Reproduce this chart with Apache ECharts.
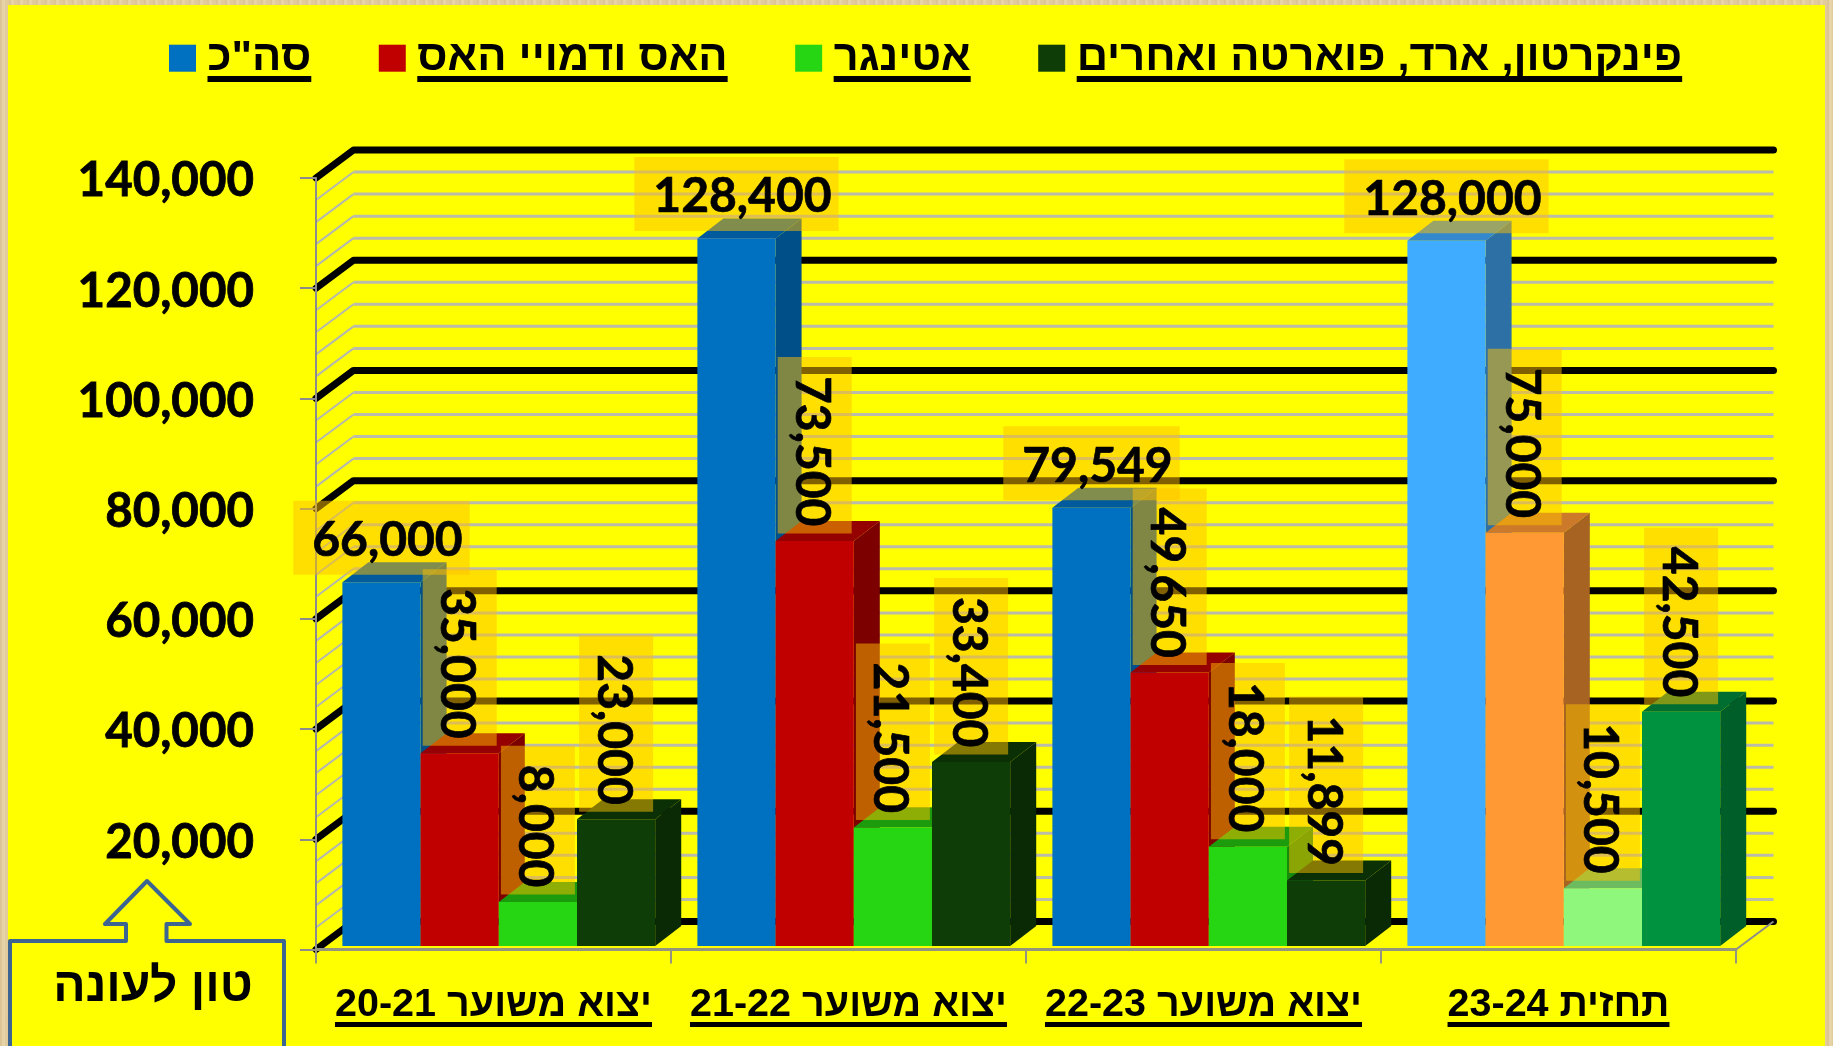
<!DOCTYPE html>
<html lang="he">
<head>
<meta charset="utf-8">
<title>Chart</title>
<style>
html,body{margin:0;padding:0;width:1833px;height:1046px;overflow:hidden;background:#E4CFA2;}
body{background-image:repeating-linear-gradient(90deg,rgba(190,150,90,.18) 0 2px,rgba(255,240,210,.12) 2px 5px,rgba(190,150,90,.08) 5px 9px);}
#c{width:1833px;height:1046px;}
</style>
<script src="https://cdn.jsdelivr.net/npm/echarts@6/dist/echarts.min.js"></script>
</head>
<body>
<div id="c" dir="rtl"></div>
<script>
const categories = ['יצוא משוער 20-21', 'יצוא משוער 21-22', 'יצוא משוער 22-23', 'תחזית 23-24'];
const seriesNames = ['סה"כ', 'האס ודמויי האס', 'אטינגר', 'פינקרטון, ארד, פוארטה ואחרים'];
const totalValues = [66000, 128400, 79549, 128000];
const hassValues = [35000, 73500, 49650, 75000];
const ettingerValues = [8000, 21500, 18000, 10500];
const otherValues = [23000, 33400, 11899, 42500];
const allValues = [totalValues, hassValues, ettingerValues, otherValues];
const gridValues = [0,4000,8000,12000,16000,20000,24000,28000,32000,36000,40000,44000,48000,52000,56000,60000,64000,68000,72000,76000,80000,84000,88000,92000,96000,100000,104000,108000,112000,116000,120000,124000,128000,132000,136000,140000];
const calloutText = 'טון לעונה';

// colours: [front, top, side], actual seasons then the forecast season
const actualColors = [
  ['#0070C0','#005A9B','#004F88'],
  ['#C00000','#950000','#7C0000'],
  ['#27D612','#1C9C0D','#178A0B'],
  ['#0F3D08','#0B3006','#092A05']
];
const forecastColors = [
  ['#40ACFF','#3389CC','#2C70A6'],
  ['#FF9933','#CC7A29','#A66321'],
  ['#8FF77B','#6CBB5E','#5FA552'],
  ['#00923F','#006E30','#005F29']
];
const forecastIndex = 3;

const LABEL_FONT = '700 48px Lato';
const LEGEND_SIZE = 43.4, AXIS_SIZE = 39.5;
const HEB_FONT = '700 ' + LEGEND_SIZE + 'px "Liberation Sans"';
const AXIS_FONT = '700 ' + AXIS_SIZE + 'px "Liberation Sans"';
const LEGEND_PAD = 6.5, LEGEND_GAP = 67.5;
const LABEL_BOX = 74;

const WALL_DX = 37.5, WALL_DY = -28;
const BAR_DX = 26, BAR_DY = -20;
const FLOOR_DX = 5.3, FLOOR_DY = -3.5;
const BAR_FRAC = 0.2203;

const mctx = document.createElement('canvas').getContext('2d');
function textW(t, font){ mctx.font = font; return mctx.measureText(t).width; }
function fmt(v){ return v.toLocaleString('en-US'); }

function barGeom(api, cat, val, idx){
  const band = api.size([1,0])[0];
  const bw = band * BAR_FRAC;
  const c = api.coord([cat, val]);
  const b = api.coord([cat, 0]);
  const x0 = c[0] + FLOOR_DX + (idx - 2) * bw;
  return {x0, x1: x0 + bw, top: c[1] + FLOOR_DY, base: b[1] + FLOOR_DY, bw};
}

function barSeries(idx){
  return {
    name: seriesNames[idx], type: 'custom', z: 2, clip: false,
    itemStyle: {color: actualColors[idx][0]},
    encode: {x: 0, y: 1},
    data: allValues[idx].map((v,i)=>[i,v]),
    renderItem(params, api){
      const cat = api.value(0), val = api.value(1);
      const g = barGeom(api, cat, val, idx);
      const col = (cat === forecastIndex ? forecastColors : actualColors)[idx];
      return {type:'group', children:[
        {type:'polygon', shape:{points:[[g.x1,g.top],[g.x1+BAR_DX,g.top+BAR_DY],[g.x1+BAR_DX,g.base+BAR_DY],[g.x1,g.base]]}, style:{fill:col[2]}},
        {type:'polygon', shape:{points:[[g.x0,g.top],[g.x0+BAR_DX,g.top+BAR_DY],[g.x1+BAR_DX,g.top+BAR_DY],[g.x1,g.top]]}, style:{fill:col[1]}},
        {type:'rect', shape:{x:g.x0,y:g.top,width:g.bw,height:g.base-g.top}, style:{fill:col[0]}}
      ]};
    }
  };
}

const labelData = [];
allValues.forEach((arr,s)=>arr.forEach((v,i)=>labelData.push([i,v,s])));

const option = {
  animation: false,
  backgroundColor: 'transparent',
  textStyle: {fontFamily: '"Liberation Sans"'},
  grid: {left: 316, right: 97, top: 178, bottom: 96.5},
  legend: {
    left: 169, top: 36.7, padding: 0, icon: 'rect', itemWidth: 27, itemHeight: 27, itemGap: LEGEND_GAP,
    data: seriesNames, selectedMode: false,
    textStyle: {fontFamily: '"Liberation Sans"', fontWeight: 700, fontSize: LEGEND_SIZE, color: '#000', padding: [0,0,0,LEGEND_PAD]}
  },
  xAxis: {
    type: 'category', data: categories, z: 1,
    axisLine: {show: true, lineStyle: {color: '#95957F', width: 3}},
    axisTick: {show: true, interval: 0, alignWithLabel: false, length: 14, lineStyle: {color: '#95957F', width: 2}},
    axisLabel: {interval: 0, hideOverlap: false, fontFamily:'"Liberation Sans"', fontWeight:700, fontSize:AXIS_SIZE, color:'#000', margin: 36},
    splitLine: {show: false}
  },
  yAxis: {
    type: 'value', min: 0, max: 140000, interval: 20000, z: 1,
    axisLine: {show: true, lineStyle: {color: '#8C8C8C', width: 2}},
    axisTick: {show: true, length: 16, lineStyle: {color: '#8C8C8C', width: 2}},
    axisLabel: {fontFamily: 'Lato', fontWeight: 700, fontSize: 47.5, color: '#000', margin: 62, verticalAlign: 'top', padding: [-21,0,0,0], textBorderColor:'#000', textBorderWidth:0.8, formatter: v => v === 0 ? '' : fmt(v)},
    splitLine: {show: false}
  },
  graphic: [],
  series: [
    {
      name: 'wall', type: 'custom', z: 0, clip: false, silent: true,
      encode: {y: 0},
      data: gridValues.map(v=>[v]),
      renderItem(params, api){
        const v = api.value(0);
        const cs = params.coordSys;
        const y = api.coord([0, v])[1];
        const major = v % 20000 === 0;
        const x0 = cs.x, x1 = cs.x + cs.width;
        const kids = [];
        if (major) {
          kids.push({type:'polyline', shape:{points:[[x0,y],[x0+WALL_DX,y+WALL_DY],[x1+WALL_DX,y+WALL_DY]]},
            style:{stroke:'#000', lineWidth:7, fill:null, lineCap:'round', lineJoin:'round'}});
        } else {
          kids.push({type:'polyline', shape:{points:[[x0,y],[x0+WALL_DX,y+WALL_DY]]}, style:{stroke:'#B4B8B0', lineWidth:2, fill:null}});
          kids.push({type:'polyline', shape:{points:[[x0+WALL_DX,y+WALL_DY],[x1+WALL_DX,y+WALL_DY]]}, style:{stroke:'#BBBBAA', lineWidth:3, fill:null}});
        }
        if (v === 0) {
          kids.push({type:'line', z2:5, shape:{x1:x1,y1:y,x2:x1+WALL_DX,y2:y+WALL_DY}, style:{stroke:'#8C8C8C', lineWidth:2}});
        }
        return {type:'group', children:kids};
      }
    },
    barSeries(0), barSeries(1), barSeries(2), barSeries(3),
    {
      name: 'labels', type: 'custom', z: 5, clip: false, silent: true,
      encode: {x: 0, y: 1},
      data: labelData,
      renderItem(params, api){
        const cat = api.value(0), val = api.value(1), s = api.value(2);
        const g = barGeom(api, cat, val, s);
        const cx = (g.x0 + g.x1) / 2, ay = g.top - 7.5;
        const common = {text: fmt(val), font: LABEL_FONT, fill:'#000', stroke:'#000', lineWidth:0.7,
          backgroundColor:'rgba(255,192,0,0.5)', padding:[16,7,10,19], verticalAlign:'bottom'};
        if (s === 0) {
          return {type:'text', x:cx, y:ay, style:Object.assign({align:'center'}, common)};
        }
        return {type:'text', x:cx-LABEL_BOX/2, y:ay, rotation:-Math.PI/2, style:Object.assign({align:'right'}, common)};
      }
    },
    {
      name: 'axisUnderline', type: 'custom', z: 1, clip: false, silent: true,
      encode: {x: 0},
      data: categories.map((c,i)=>[i]),
      renderItem(params, api){
        const i = api.value(0);
        const c = api.coord([i, 0]);
        const w = textW(categories[i], AXIS_FONT);
        return {type:'rect', shape:{x:c[0]-w/2, y:c[1]+72.5, width:w, height:5}, style:{fill:'#000'}};
      }
    }
  ]
};

// page panel, callout and legend underlines
const gfx = [
  {type:'rect', z:-10, silent:true, shape:{x:8,y:5,width:1817,height:1045}, style:{fill:'#FFFF00'}},
  {type:'polygon', z:10, silent:true, shape:{points:[[147,881],[105,924],[126,924],[126,941],[10,941],[10,1070],[284,1070],[284,941],[166.5,941],[166.5,924],[190,924]]},
    style:{fill:'#FFFF00', stroke:'#3C6591', lineWidth:4, lineJoin:'round'}},
  {type:'text', z:11, silent:true, x:153, y:988, style:{text:calloutText, font:'700 48px "Liberation Sans"', fill:'#000', align:'center', verticalAlign:'middle'}}
];
let lx = 169;
seriesNames.forEach(n=>{
  const w = textW(n, HEB_FONT);
  gfx.push({type:'rect', z:3, silent:true, shape:{x:lx+27+5+LEGEND_PAD, y:76, width:w, height:6}, style:{fill:'#000'}});
  lx += 27+5+LEGEND_PAD+w+LEGEND_GAP;
});
option.graphic = gfx;

const chart = echarts.init(document.getElementById('c'), null, {renderer:'canvas', width:1833, height:1046});
chart.setOption(option);
</script>
</body>
</html>
